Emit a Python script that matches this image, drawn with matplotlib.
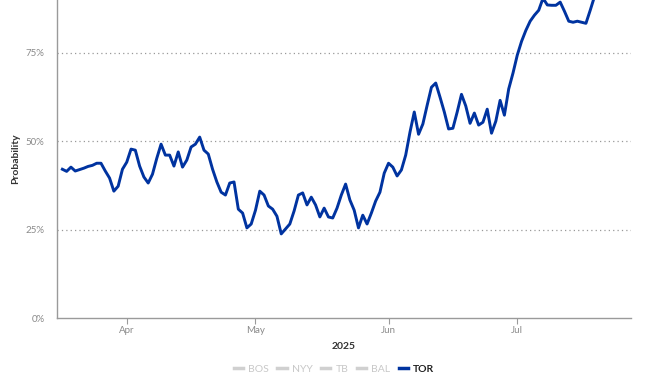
import matplotlib.pyplot as plt
import matplotlib.dates as mdates
from matplotlib.ticker import PercentFormatter
from matplotlib.lines import Line2D
import pandas as pd

plt.rcParams['font.family'] = ['Lato', 'DejaVu Sans']

# daily playoff probability for TOR (%), starting 2025-03-17
start = "2025-03-17"
tor = [42.1, 41.5, 42.7, 41.6, 42.0, 42.4, 42.9, 43.2, 43.8, 43.8,
       41.6, 39.6, 35.9, 37.3, 42.1, 44.1, 47.8, 47.5, 43.0, 39.9,
       38.2, 40.7, 45.2, 49.2, 46.1, 46.1, 43.0, 47.0, 42.7, 44.7,
       48.4, 49.2, 51.2, 47.5, 46.4, 42.1, 38.5, 35.6, 34.8, 38.2,
       38.5, 30.8, 29.7, 25.5, 26.6, 30.5, 35.9, 34.8, 31.7, 30.8,
       28.8, 23.8, 25.2, 26.6, 30.3, 34.8, 35.4, 32.0, 34.2, 32.0,
       28.6, 31.1, 28.6, 28.3, 31.1, 34.8, 37.9, 33.4, 30.5, 25.5,
       29.1, 26.6, 29.7, 33.1, 35.6, 41.0, 43.8, 42.7, 40.2, 41.9,
       46.1, 52.6, 58.3, 52.0, 54.9, 60.2, 65.3, 66.5, 62.5, 58.3,
       53.5, 53.7, 58.3, 63.3, 60.0, 55.1, 58.0, 54.6, 55.4, 59.1,
       52.3, 55.7, 61.6, 57.4, 64.8, 69.3, 74.4, 78.3, 81.4, 84.0,
       85.7, 87.1, 90.5, 88.6, 88.5, 88.5, 89.4, 86.8, 84.0, 83.7,
       84.0, 83.7, 83.4, 87.1, 91.0, 93.5, 95.0, 95.5, 96.0, 96.5]
dates = pd.date_range(start, periods=len(tor), freq="D")

teams = ["BOS", "NYY", "TB", "BAL", "TOR"]
yticks = [0, 25, 50, 75]

blue = "#0033a0"
grey = "#d0d0d0"

fig = plt.figure(figsize=(6.68, 3.76), dpi=100)
ax = fig.add_axes([57 / 668, 1 - 318 / 376, (631 - 57) / 668, 318 / 376])

ax.plot(dates, tor, color=blue, lw=2.1, solid_joinstyle="round")

ax.set_xlim(pd.Timestamp("2025-03-15 18:00"), pd.Timestamp("2025-07-27 12:00"))
ax.set_ylim(0, 90)
ax.set_yticks(yticks)
ax.yaxis.set_major_formatter(PercentFormatter(xmax=100, decimals=0))
ax.xaxis.set_major_locator(mdates.MonthLocator())
ax.xaxis.set_major_formatter(mdates.DateFormatter("%b"))

for v in yticks[1:]:
    ax.axhline(v, color="#999999", lw=0.9, ls=(0, (1, 2.5)), zorder=0)

for s in ["top", "right"]:
    ax.spines[s].set_visible(False)
for s in ["left", "bottom"]:
    ax.spines[s].set_color("#9a9a9a")
    ax.spines[s].set_linewidth(1)

ax.tick_params(axis="y", length=0, pad=9, labelsize=7, labelcolor="#8a8a8a")
ax.tick_params(axis="x", length=4, color="#9a9a9a", pad=2, labelsize=7,
               labelcolor="#8a8a8a")

ax.set_ylabel("Probability", fontsize=7.5, fontweight="bold", color="#333333",
              labelpad=4)
ax.set_xlabel("2025", fontsize=7.5, fontweight="bold", color="#333333",
              labelpad=5)

handles = [Line2D([], [], color=grey if t != "TOR" else blue, lw=2.5)
           for t in teams]
leg = fig.legend(handles, teams, loc="center", bbox_to_anchor=(334 / 668, 1 - 369 / 376),
                 ncol=5, frameon=False, fontsize=7.5, handlelength=0.9,
                 handletextpad=0.5, columnspacing=0.8)
for t, txt in zip(teams, leg.get_texts()):
    if t == "TOR":
        txt.set_color("#222222")
        txt.set_fontweight("bold")
    else:
        txt.set_color("#c8c8c8")

fig.savefig("out.png", dpi=100)
